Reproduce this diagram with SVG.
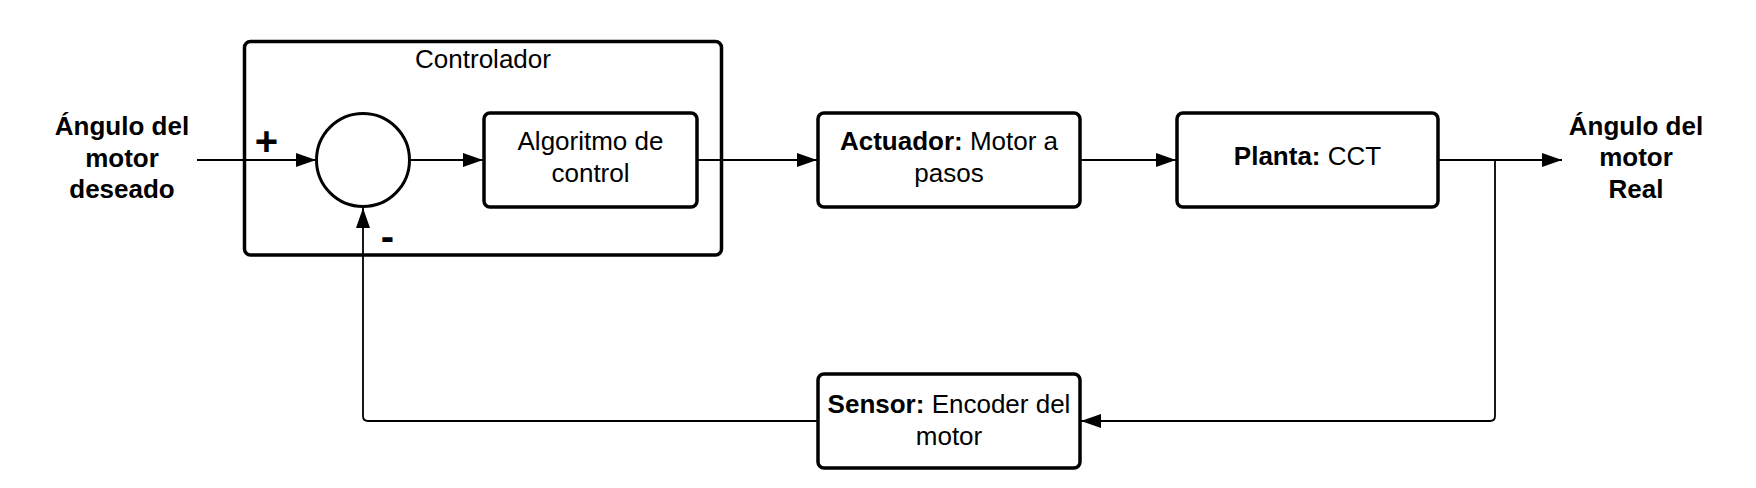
<svg xmlns="http://www.w3.org/2000/svg" width="1756" height="488" viewBox="0 0 1756 488">
<defs>
<style>
.box{fill:#fff;stroke:#000;stroke-width:3.5}
.t{font-family:"Liberation Sans",Arial,sans-serif;font-size:26px;fill:#000;text-anchor:middle}
.b{font-weight:bold}
.ln{fill:none;stroke:#000;stroke-width:2}
.fb{fill:none;stroke:#000;stroke-width:1.8}
</style>
<marker id="ah" markerWidth="20" markerHeight="14" refX="20" refY="7" orient="auto" markerUnits="userSpaceOnUse">
<path d="M0,0 L20,7 L0,14 Z" fill="#000"/>
</marker>
</defs>
<rect width="1756" height="488" fill="#fff"/>
<g id="controlador">
<rect class="box" x="244.5" y="41.5" width="477" height="213.5" rx="6"/>
<text class="t" x="483" y="68">Controlador</text>
</g>
<g id="sumador">
<circle cx="363" cy="160" r="46.5" fill="#fff" stroke="#000" stroke-width="3"/>
<text class="t b" x="266.5" y="155" style="font-size:40px">+</text>
<text class="t b" x="387.5" y="250" style="font-size:40px">-</text>
</g>
<g id="algoritmo">
<rect class="box" x="484" y="113" width="213" height="94" rx="6"/>
<text class="t" x="590.5" y="150">Algoritmo de</text>
<text class="t" x="590.5" y="182">control</text>
</g>
<g id="actuador">
<rect class="box" x="818" y="113" width="262" height="94" rx="6"/>
<text class="t" x="949" y="150"><tspan class="b">Actuador:</tspan> Motor a</text>
<text class="t" x="949" y="182">pasos</text>
</g>
<g id="planta">
<rect class="box" x="1177" y="113" width="261" height="94" rx="6"/>
<text class="t" x="1307.5" y="165"><tspan class="b">Planta:</tspan> CCT</text>
</g>
<g id="sensor">
<rect class="box" x="818" y="374" width="262" height="94" rx="6"/>
<text class="t" x="949" y="413"><tspan class="b">Sensor:</tspan> Encoder del</text>
<text class="t" x="949" y="445">motor</text>
</g>
<g id="entrada">
<text class="t b" x="122" y="135">Ángulo del</text>
<text class="t b" x="122" y="167">motor</text>
<text class="t b" x="122" y="198">deseado</text>
</g>
<g id="salida">
<text class="t b" x="1636" y="135">Ángulo del</text>
<text class="t b" x="1636" y="166">motor</text>
<text class="t b" x="1636" y="198">Real</text>
</g>
<g id="connectors">
<line class="ln" x1="197" y1="160" x2="316" y2="160" marker-end="url(#ah)"/>
<line class="ln" x1="410" y1="160" x2="483" y2="160" marker-end="url(#ah)"/>
<line class="ln" x1="697" y1="160" x2="817" y2="160" marker-end="url(#ah)"/>
<line class="ln" x1="1080" y1="160" x2="1176" y2="160" marker-end="url(#ah)"/>
<line class="ln" x1="1438" y1="160" x2="1562" y2="160" marker-end="url(#ah)"/>
<path class="fb" d="M1495,160 V416 Q1495,421 1490,421 H1081" marker-end="url(#ah)"/>
<path class="fb" d="M818,421 H368 Q363,421 363,416 V208" marker-end="url(#ah)"/>
</g>
</svg>
